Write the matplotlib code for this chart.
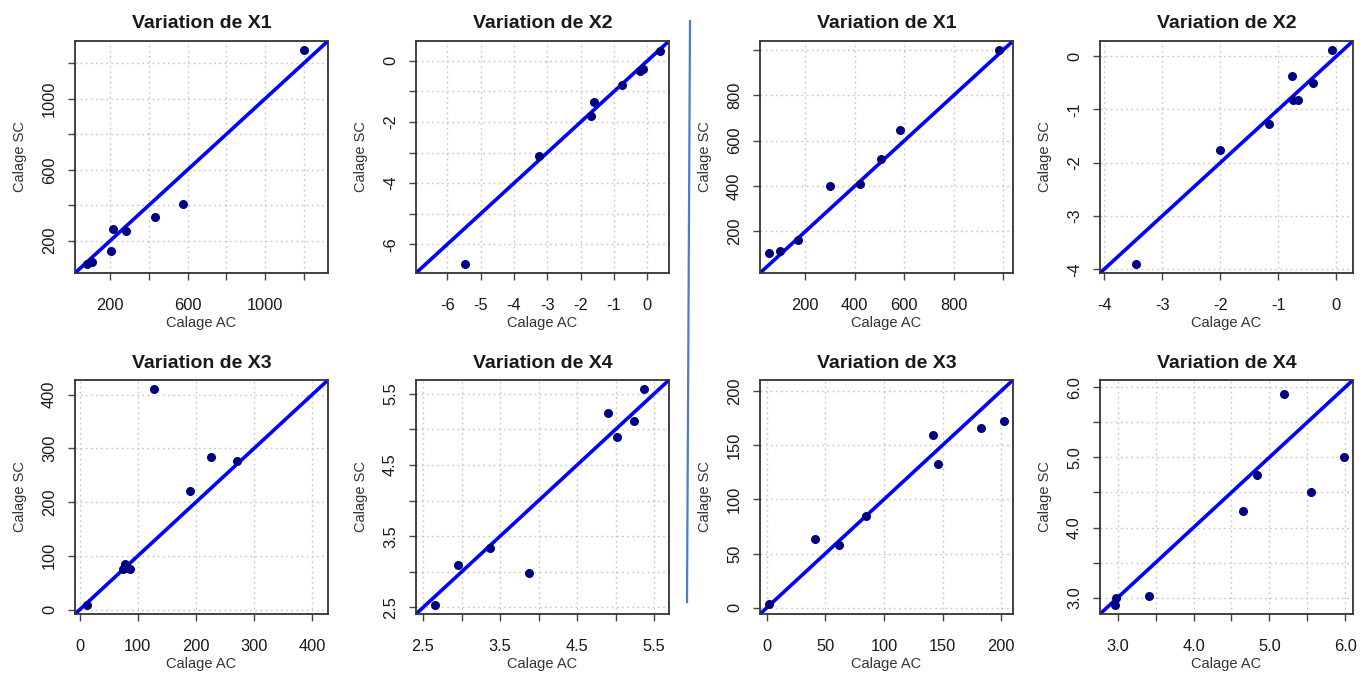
import matplotlib.pyplot as plt
from matplotlib.lines import Line2D

plt.rcParams['font.family'] = ['Liberation Sans', 'DejaVu Sans']

# titles, one per panel (top row then bottom row, left half then right half)
titles = ["Variation de X1", "Variation de X2", "Variation de X1", "Variation de X2",
          "Variation de X3", "Variation de X4", "Variation de X3", "Variation de X4"]

# left half
x1_ac_a = [1202, 578, 432, 280, 214, 205, 106, 82]
x1_sc_a = [1278, 407, 334, 255, 264, 143, 78, 66]
x2_ac_a = [0.37, -0.13, -0.23, -0.75, -1.6, -1.7, -3.25, -5.48]
x2_sc_a = [0.33, -0.27, -0.33, -0.79, -1.34, -1.80, -3.10, -6.66]
x3_ac_a = [128.6, 225.7, 270, 190, 78, 74, 86, 82, 12]
x3_sc_a = [411, 284, 276, 220, 85, 75, 76, 78, 8]
x4_ac_a = [5.37, 4.90, 5.24, 5.02, 3.37, 2.95, 3.87, 2.66]
x4_sc_a = [5.57, 5.23, 5.11, 4.89, 3.34, 3.10, 2.98, 2.53]

# right half
x1_ac_b = [984, 581, 504, 420, 299, 170, 96, 55]
x1_sc_b = [1001, 649, 519, 409, 399, 163, 112, 104]
x2_ac_b = [-0.075, -0.41, -0.76, -0.74, -0.66, -1.16, -2.0, -3.45]
x2_sc_b = [0.125, -0.51, -0.38, -0.83, -0.83, -1.28, -1.76, -3.91]
x3_ac_b = [202, 182.9, 141.4, 146.3, 84.3, 62, 41.4, 2.3]
x3_sc_b = [172, 165.4, 159.3, 133, 84.3, 58, 63.6, 3.1]
x4_ac_b = [5.20, 5.98, 5.55, 4.84, 4.65, 3.41, 2.98, 2.96]
x4_sc_b = [5.90, 5.00, 4.51, 4.75, 4.24, 3.02, 3.00, 2.89]

# ticks and their labels (x, y)
ticks_x = [[200, 400, 600, 800, 1000, 1200], [-6, -5, -4, -3, -2, -1, 0],
           [200, 400, 600, 800, 1000], [-4, -3, -2, -1, 0],
           [0, 100, 200, 300, 400], [2.5, 3.0, 3.5, 4.0, 4.5, 5.0, 5.5],
           [0, 50, 100, 150, 200], [3.0, 3.5, 4.0, 4.5, 5.0, 5.5, 6.0]]
labels_x = [["200", "", "600", "", "1000", ""], ["-6", "-5", "-4", "-3", "-2", "-1", "0"],
            ["200", "400", "600", "800", ""], ["-4", "-3", "-2", "-1", "0"],
            ["0", "100", "200", "300", "400"], ["2.5", "", "3.5", "", "4.5", "", "5.5"],
            ["0", "50", "100", "150", "200"], ["3.0", "", "4.0", "", "5.0", "", "6.0"]]
ticks_y = [[200, 400, 600, 800, 1000, 1200], [-6, -5, -4, -3, -2, -1, 0],
           [200, 400, 600, 800, 1000], [-4, -3, -2, -1, 0],
           [0, 100, 200, 300, 400], [2.5, 3.0, 3.5, 4.0, 4.5, 5.0, 5.5],
           [0, 50, 100, 150, 200], [3.0, 3.5, 4.0, 4.5, 5.0, 5.5, 6.0]]
labels_y = [["200", "", "600", "", "1000", ""], ["-6", "", "-4", "", "-2", "", "0"],
            ["200", "400", "600", "800", ""], ["-4", "-3", "-2", "-1", "0"],
            ["0", "100", "200", "300", "400"], ["2.5", "", "3.5", "", "4.5", "", "5.5"],
            ["0", "50", "100", "150", "200"], ["3.0", "", "4.0", "", "5.0", "", "6.0"]]

series = [(x1_ac_a, x1_sc_a), (x2_ac_a, x2_sc_a), (x1_ac_b, x1_sc_b), (x2_ac_b, x2_sc_b),
          (x3_ac_a, x3_sc_a), (x4_ac_a, x4_sc_a), (x3_ac_b, x3_sc_b), (x4_ac_b, x4_sc_b)]

fig = plt.figure(figsize=(13.68, 6.74), dpi=100)

# panel boxes in pixels: left edges of the 4 columns, top/bottom of the 2 rows
W, H = 1368, 674
col_left = [75, 416, 760, 1100]
col_w = 253
rows = [(41, 273), (380, 614)]

for i, (ac, sc) in enumerate(series):
    r, c = divmod(i, 4)
    top, bot = rows[r]
    ax = fig.add_axes([col_left[c] / W, 1 - bot / H, col_w / W, (bot - top) / H])

    # same range on both axes, R style 4% padding
    lo = min(min(ac), min(sc))
    hi = max(max(ac), max(sc))
    pad = (hi - lo) * 0.04
    ax.set_xlim(lo - pad, hi + pad)
    ax.set_ylim(lo - pad, hi + pad)

    ax.set_xticks(ticks_x[i])
    ax.set_xticklabels(labels_x[i])
    ax.set_yticks(ticks_y[i])
    ax.set_yticklabels(labels_y[i], rotation=90, va='center')
    ax.grid(True, linestyle=(0, (1.2, 2.5)), color='#c4c4c4', linewidth=1.0)
    ax.set_axisbelow(True)

    ax.axline((0, 0), slope=1, color='#0000ff', linewidth=2.6, zorder=2)
    ax.scatter(ac, sc, s=30, color='#000080', zorder=3, clip_on=False)

    ax.tick_params(direction='out', length=5, width=1, color='#444444',
                   labelsize=11.8, labelcolor='#1a1a1a')
    ax.tick_params(axis='x', pad=13)
    ax.tick_params(axis='y', pad=8)
    for sp in ax.spines.values():
        sp.set_color('#333333')
        sp.set_linewidth(1.3)

    ax.set_title(titles[i], fontsize=14, fontweight='bold', pad=9, color='#1a1a1a')
    ax.set_xlabel('Calage AC', fontsize=10.5, color='#333333')
    ax.set_ylabel('Calage SC', fontsize=10.5, color='#333333')
    ax.xaxis.set_label_coords(0.5, -43 / (bot - top))
    ax.yaxis.set_label_coords(-0.19, 0.5)

# separator between the two groups of panels
fig.add_artist(Line2D([690 / W, 687 / W], [1 - 21 / H, 1 - 602 / H],
                      color='#4a7ec8', linewidth=1.6))

fig.savefig('out.png', dpi=100)
